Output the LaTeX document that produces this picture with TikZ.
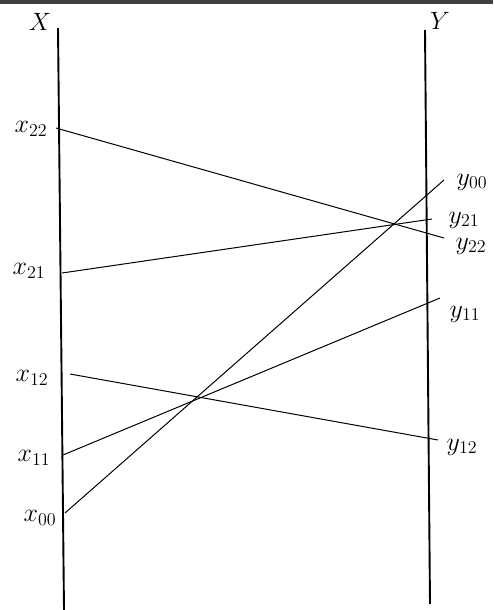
\documentclass[tikz,border=0pt]{standalone}
\usepackage{amsmath}
\usepackage{tikz}

\begin{document}
\begin{tikzpicture}[x=1pt,y=-1pt,
		axis/.style={line width=1.9pt},
		link/.style={line width=1pt},
		lbl/.style={inner sep=1pt,font=\LARGE,scale=1.5,transform shape},
		head/.style={inner sep=1pt,font=\LARGE,scale=1.45,transform shape}]
					\useasboundingbox (0,0) rectangle (493,610);
					\fill[black!75] (0,0) rectangle (493,4);
					
					% the two scales
					\coordinate (xtop) at (58,28);
					\coordinate (xbot) at (64,610);
					\coordinate (ytop) at (425,30);
					\coordinate (ybot) at (430,604);
					\draw[axis] (xtop) -- (xbot);
					\draw[axis] (ytop) -- (ybot);
					\node[head] (X) at (40,22) {$X$};
					\node[head] (Y) at (440,21) {$Y$};
					
					% end points on X
					\coordinate (x22) at (56,128);
					\coordinate (x21) at (62,273);
					\coordinate (x12) at (70,374);
					\coordinate (x11) at (63,455);
					\coordinate (x00) at (65,513);
					
					% end points on Y
					\coordinate (y00) at (444,180);
					\coordinate (y21) at (432,219);
					\coordinate (y22) at (444,238);
					\coordinate (y11) at (440,298);
					\coordinate (y12) at (438,440);
					
					\node[lbl] (lx22) at (31,129) {$x_{22}$};
					\node[lbl] (lx21) at (29,271) {$x_{21}$};
					\node[lbl] (lx12) at (32,378) {$x_{12}$};
					\node[lbl] (lx11) at (34,458) {$x_{11}$};
					\node[lbl] (lx00) at (40,518) {$x_{00}$};
					
					\node[lbl] (ly00) at (472,182) {$y_{00}$};
					\node[lbl] (ly21) at (464,220) {$y_{21}$};
					\node[lbl] (ly22) at (471,246) {$y_{22}$};
					\node[lbl] (ly11) at (465,314) {$y_{11}$};
					\node[lbl] (ly12) at (462,447) {$y_{12}$};
					
					\draw[link] (x22) -- (y22);
					\draw[link] (x21) -- (y21);
					\draw[link] (x12) -- (y12);
					\draw[link] (x11) -- (y11);
					\draw[link] (x00) -- (y00);
					
				\end{tikzpicture}
\end{document}
